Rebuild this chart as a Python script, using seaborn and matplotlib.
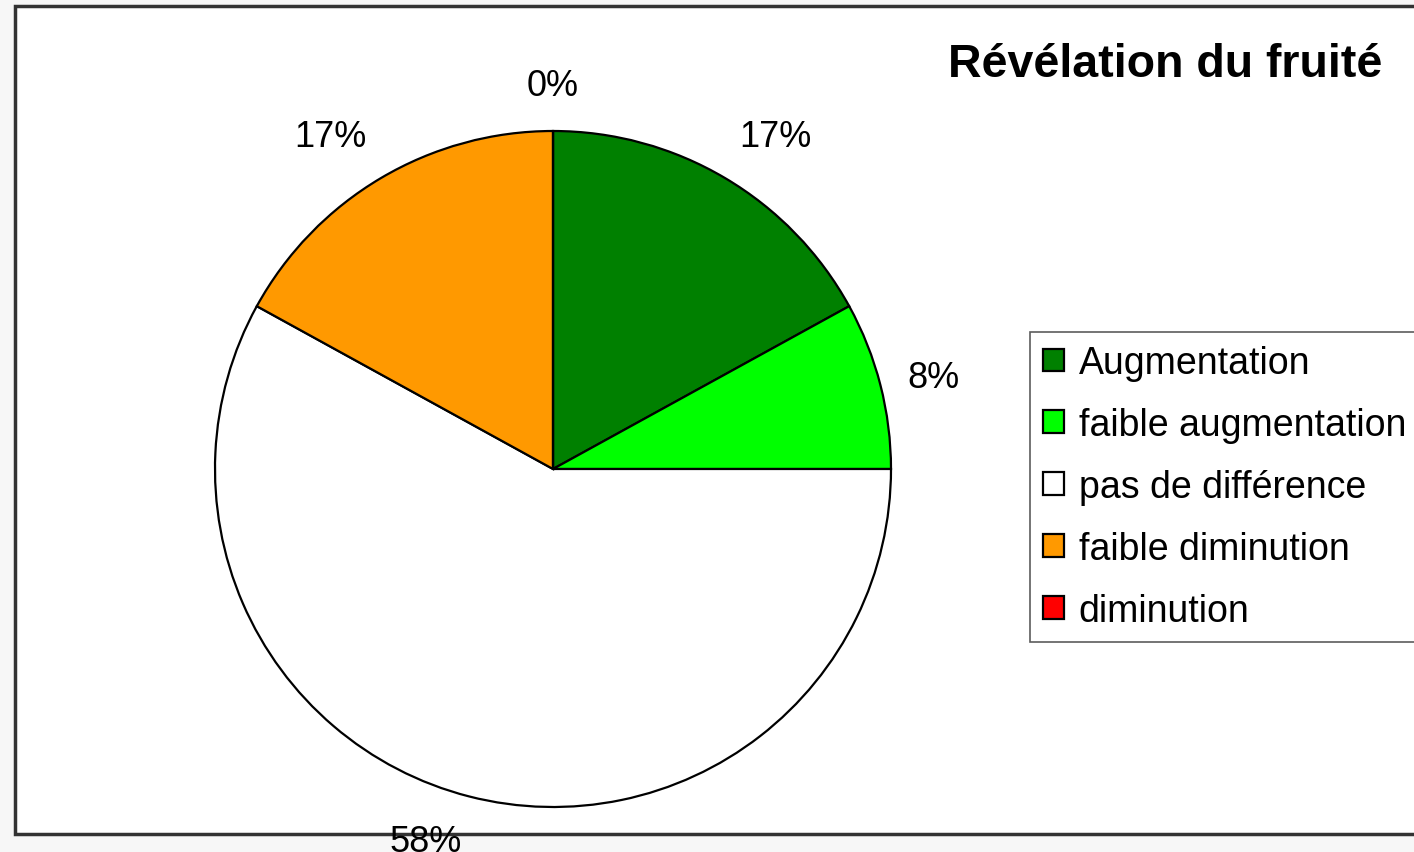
import matplotlib
matplotlib.use("Agg")
import numpy as np
import matplotlib.pyplot as plt
from matplotlib.patches import Rectangle
import seaborn as sns

categories = ["Augmentation", "faible augmentation", "pas de différence",
              "faible diminution", "diminution"]
percents = [17, 8, 58, 17, 0]
slice_colors = ["#008000", "#00ff00", "#ffffff", "#ff9900", "#ff0000"]

sns.set_style("white")
plt.rcParams['font.family'] = ['Liberation Sans', 'DejaVu Sans']
plt.rcParams['text.color'] = 'black'

W, H = 1414, 853
fig = plt.figure(figsize=(W / 100, H / 100), dpi=100)
fig.patch.set_facecolor("#f7f7f7")

ax = fig.add_axes([0, 0, 1, 1])
# white chart area with dark frame
ax.add_patch(Rectangle((15, H - 835), W, 828, facecolor="white",
                       edgecolor="#333333", linewidth=2.5, zorder=0))

cx, cy, r = 553, H - 470, 338
wedges, texts, autotexts = ax.pie(
    percents, colors=slice_colors, startangle=90, counterclock=False,
    center=(cx, cy), radius=r,
    autopct="%.0f%%", pctdistance=1.16,
    wedgeprops=dict(edgecolor="black", linewidth=1.6),
    textprops=dict(fontsize=26, color="black"))

# place labels just outside the rim, box corner facing the slice
gap = 28
for w, t in zip(wedges, autotexts):
    ang = np.deg2rad((w.theta1 + w.theta2) / 2)
    c, s = np.cos(ang), np.sin(ang)
    t.set_position((cx + c * (r + gap), cy + s * (r + gap)))
    t.set_ha("left" if c > 0.1 else "right" if c < -0.1 else "center")
    t.set_va("bottom" if s > 0.3 else "top" if s < -0.3 else "center")

ax.set_xlim(0, W)
ax.set_ylim(0, H)
ax.set_aspect("equal")
ax.axis("off")

ax.text(1382, H - 65, "Révélation du fruité", ha="right", va="center",
        fontsize=33.5, fontweight="bold", color="black")

leg = fig.legend(wedges, categories, loc="upper left",
                 bbox_to_anchor=(1030 / W, 1 - 333 / H),
                 fontsize=27, frameon=True, fancybox=False,
                 handlelength=0.55, handleheight=0.55, handletextpad=0.4,
                 labelspacing=0.69, borderpad=0.35, borderaxespad=0)
leg.get_frame().set_edgecolor("#333333")
leg.get_frame().set_linewidth(1.2)
for txt in leg.get_texts():
    txt.set_color("black")

fig.savefig("out.png", dpi=100, facecolor=fig.get_facecolor())
